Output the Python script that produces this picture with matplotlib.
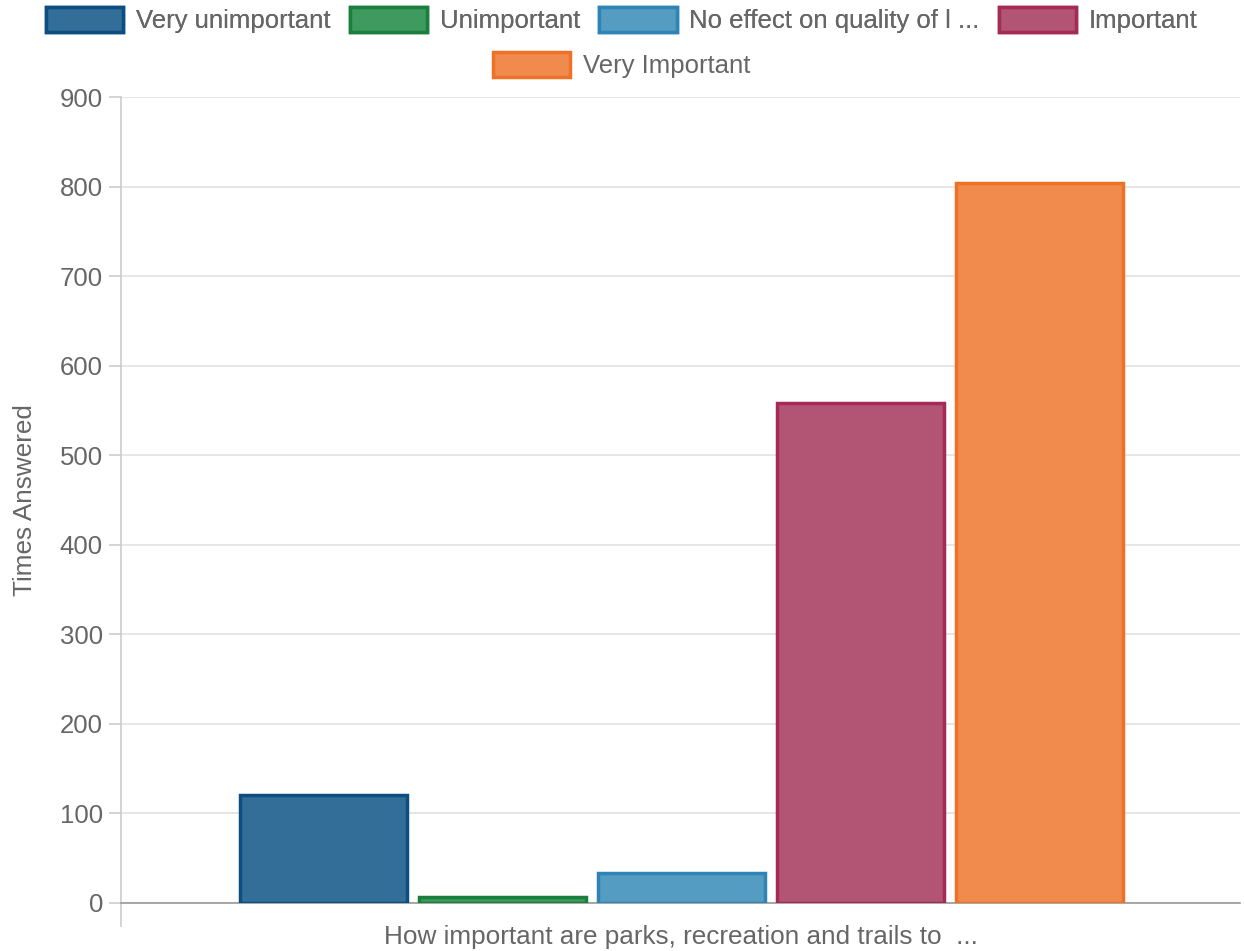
import numpy as np
from matplotlib import pyplot as plt

#%% Data
categories = ["How important are parks, recreation and trails to  ..."]
series = ["Very unimportant", "Unimportant", "No effect on quality of l ...",
          "Important", "Very Important"]
values = [121, 7, 33, 558, 804]
fills = ["#336e99", "#3f9a5f", "#559cc2", "#b25575", "#f08b4d"]
edges = ["#0d4e82", "#1a7f3c", "#2d84b5", "#a52a55", "#ef7027"]

#%% Figure
plt.rcParams['font.family'] = ['Liberation Sans', 'DejaVu Sans']
fig = plt.figure(figsize=(12.44, 9.51), dpi=100)
ax = fig.add_axes([0.0973, 0.0505, 0.8995, 0.8475])

slot = 0.16
width = 0.149
x0 = 0.003
handles = []
for k in range(len(series)):
    pos = x0 + (k - 2) * slot
    b = ax.bar(pos, values[k], width, color=fills[k], edgecolor=edges[k],
               linewidth=2.5, label=series[k], zorder=3)
    handles.append(b)

ax.set_xlim(-0.5 + 0.002, 0.5 + 0.002)
ax.set_ylim(0, 900)
ax.set_yticks(np.arange(0, 901, 100))
ax.tick_params(axis='y', colors='#cccccc', labelcolor='#666666',
               labelsize=18.5, length=9, width=1.2, pad=4)
ax.set_xticks([ax.get_xlim()[0]])
ax.set_xticklabels([''])
ax.tick_params(axis='x', colors='#cccccc', length=17, width=1.2)
ax.grid(axis='y', color='#e2e2e2', linewidth=1.2, zorder=0)
for s in ['top', 'right']:
    ax.spines[s].set_visible(False)
ax.spines['left'].set_color('#cccccc')
ax.spines['left'].set_linewidth(1.2)
ax.spines['bottom'].set_color('#999999')
ax.spines['bottom'].set_linewidth(1.2)

fig.text(25 / 1244, 1 - 500 / 951, 'Times Answered', fontsize=18.8,
         color='#666666', rotation=90, ha='center', va='center')
fig.text(0.547, 1 - 937 / 951, categories[0], fontsize=18.8, color='#666666',
         ha='center', va='center')

#%% Legend
leg_kw = dict(frameon=False, fontsize=18.5, handlelength=3.0,
              handleheight=1.15, handletextpad=0.5, columnspacing=0.75,
              labelcolor='#666666', borderaxespad=0)
leg1 = fig.legend(handles[:4], series[:4], ncol=4, loc='center',
                  bbox_to_anchor=(0.5, 1 - 20 / 951), **leg_kw)
fig.add_artist(leg1)
fig.legend(handles[4:], series[4:], ncol=1, loc='center',
           bbox_to_anchor=(0.5, 1 - 65 / 951), **leg_kw)

fig.savefig('out.png', dpi=100)
